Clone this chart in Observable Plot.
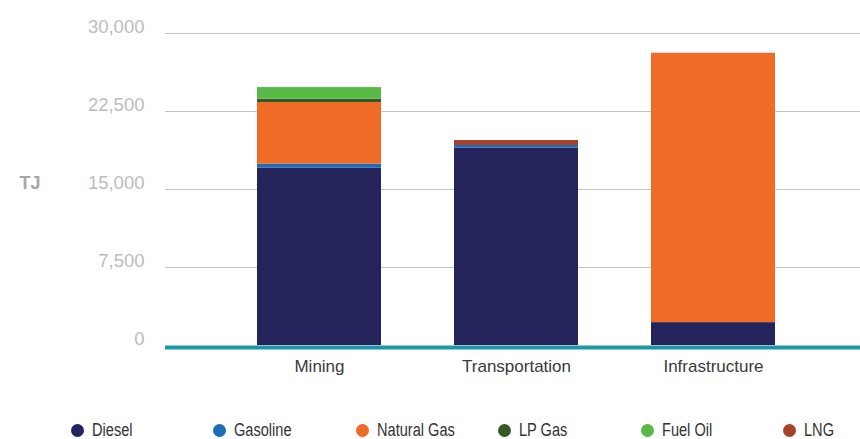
<!DOCTYPE html>
<html>
<head>
<meta charset="utf-8">
<script src="https://cdn.jsdelivr.net/npm/d3@7"></script>
<script src="https://cdn.jsdelivr.net/npm/@observablehq/plot@0.6"></script>
<style>
  html, body { margin: 0; padding: 0; background: #fff; }
  #chart { width: 860px; }
  .legend { position: relative; height: 29px; width: 860px; font-family: "Liberation Sans", Arial, sans-serif; font-size: 18px; color: #333; }
  .legend .item { position: absolute; top: 6px; display: flex; align-items: center; height: 29px; white-space: nowrap; }
  .legend .dot { width: 13px; height: 13px; border-radius: 50%; margin-right: 8px; flex: none; }
  .legend .name { display: inline-block; transform: scaleX(0.81); transform-origin: left center; }
</style>
</head>
<body>
<div id="chart"></div>
<div class="legend" id="legend"></div>
<script>
// Energy use by sector, terajoules
const sectors = ["Mining", "Transportation", "Infrastructure"];
const fuels = ["Diesel", "Gasoline", "Natural Gas", "LP Gas", "Fuel Oil", "LNG"];
const fuelColors = ["#24235b", "#1d6db6", "#f06a28", "#365a27", "#58b947", "#a8412a"];

const diesel     = [17050, 18970,  2200];
const gasoline   = [  380,   260,     0];
const naturalGas = [ 5930,     0, 25900];
const lpGas      = [  320,     0,     0];
const fuelOil    = [ 1120,     0,     0];
const lng        = [    0,   480,     0];

const yTicks = [0, 7500, 15000, 22500, 30000];

const seriesValues = [diesel, gasoline, naturalGas, lpGas, fuelOil, lng];
const rows = [];
fuels.forEach((fuel, i) => {
  sectors.forEach((sector, j) => {
    rows.push({sector, fuel, value: seriesValues[i][j]});
  });
});

const font = '"Liberation Sans", Arial, sans-serif';

const chart = Plot.plot({
  width: 860,
  height: 410,
  marginLeft: 165,
  marginRight: 0,
  marginTop: 33,
  marginBottom: 65,
  style: {fontFamily: font, background: "#fff"},
  x: {domain: sectors, range: [182.5, 848.5], padding: 0.372, label: null, axis: null},
  y: {domain: [0, 30000], label: null, axis: null},
  color: {domain: fuels, range: fuelColors},
  marks: [
    Plot.ruleY(yTicks.filter(d => d > 0), {stroke: "#c4c4c4", strokeWidth: 1.2}),
    Plot.barY(rows, {x: "sector", y: "value", fill: "fuel", order: fuels}),
    Plot.ruleY([0], {stroke: "#1b98a7", strokeWidth: 4, dy: 2}),
    Plot.axisX({tickSize: 0, tickPadding: 14, fontSize: 17, fill: "#3a3a3a", label: null, ariaLabel: "sector label"}),
    Plot.text(yTicks, {
      y: d => d,
      text: d => d3.format(",")(d),
      frameAnchor: "left",
      textAnchor: "end",
      lineAnchor: "bottom",
      dx: -21,
      dy: -1,
      fontSize: 18.5,
      fill: "#bcbcbc"
    }),
    Plot.text(["TJ"], {
      y: 15000,
      text: d => d,
      frameAnchor: "left",
      textAnchor: "start",
      lineAnchor: "bottom",
      dx: -146,
      dy: -1,
      fontSize: 18,
      fontWeight: "bold",
      fill: "#a6a6a6",
      ariaLabel: "unit label"
    })
  ]
});

// Narrow the sector and unit labels horizontally for a condensed look
d3.select(chart).selectAll("[aria-label='sector label'] text, [aria-label='unit label'] text")
  .attr("transform", function() {
    const t = this.getAttribute("transform") || "";
    return `${t} scale(0.88,1)`;
  });

document.getElementById("chart").appendChild(chart);

// Legend row below the chart
const legend = document.getElementById("legend");
const legendX = [71, 213, 356, 498, 641, 783];
fuels.forEach((fuel, i) => {
  const item = document.createElement("div");
  item.className = "item";
  item.style.left = legendX[i] + "px";
  const dot = document.createElement("span");
  dot.className = "dot";
  dot.style.background = fuelColors[i];
  const label = document.createElement("span");
  label.className = "name";
  label.textContent = fuel;
  item.appendChild(dot);
  item.appendChild(label);
  legend.appendChild(item);
});
</script>
</body>
</html>
